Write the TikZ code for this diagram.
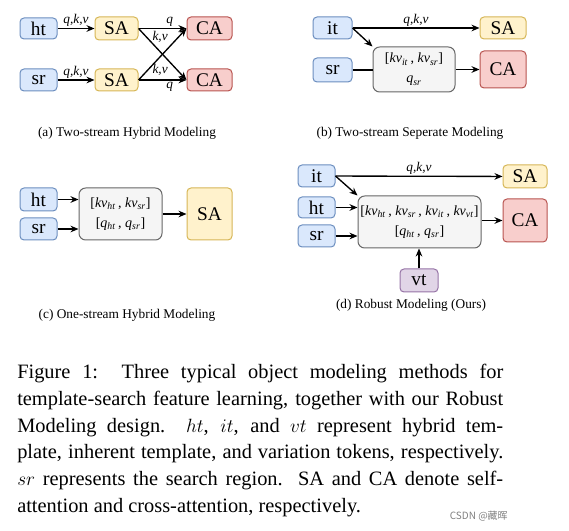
\documentclass[tikz,border=0pt]{standalone}
\usepackage{fontspec}
\setmainfont{Liberation Serif}
\newfontfamily\cjk{Noto Sans CJK SC}
\usetikzlibrary{arrows.meta}
\definecolor{bfill}{HTML}{DAE8FC}\definecolor{bdraw}{HTML}{6C8EBF}
\definecolor{yfill}{HTML}{FFF2CC}\definecolor{ydraw}{HTML}{D6B656}
\definecolor{rfill}{HTML}{F8CECC}\definecolor{rdraw}{HTML}{B85450}
\definecolor{gfill}{HTML}{F5F5F5}\definecolor{gdraw}{HTML}{666666}
\definecolor{pfill}{HTML}{E1D5E7}\definecolor{pdraw}{HTML}{9673A6}
\newcommand\boxnode[7]{\node[#2, minimum width={(#5-#3)*0.75pt}, minimum height={(#6-#4)*0.75pt}] (#1) at ({(#3+#5)/2},{(#4+#6)/2}) {#7};}
\newcommand\kvt[1]{\textit{kv}\textsubscript{\textit{#1}}}
\newcommand\qt[1]{\textit{q}\textsubscript{\textit{#1}}}
\tikzset{
  base box/.style={draw, rounded corners=3pt, line width=0.75pt, inner sep=0pt, font=\fontsize{14.5}{17}\selectfont},
  bluebox/.style={base box, fill=bfill, draw=bdraw},
  yelbox/.style={base box, fill=yfill, draw=ydraw},
  redbox/.style={base box, fill=rfill, draw=rdraw},
  purbox/.style={base box, fill=pfill, draw=pdraw},
  graybox/.style={base box, fill=gfill, draw=gdraw, rounded corners=5pt, align=center, font=\fontsize{10.5}{15}\selectfont},
  arr/.style={-{Stealth[length=6pt,width=5pt]}, line width=1pt},
  ln/.style={line width=1pt},
  lab/.style={font=\fontsize{10}{12}\selectfont\itshape, inner sep=1pt},
  subcap/.style={font=\fontsize{10}{12}\selectfont},
}
\begin{document}
\begin{tikzpicture}[x=0.75pt,y=-0.75pt]
\useasboundingbox (0,0) rectangle (569,531);
% (a)
\boxnode{aht}{bluebox}{20}{18}{57}{39}{ht}
\boxnode{asr}{bluebox}{20}{69}{57}{91}{sr}
\boxnode{asa1}{yelbox}{95}{17}{138}{40}{SA}
\boxnode{asa2}{yelbox}{95}{69}{138}{91}{SA}
\boxnode{aca1}{redbox}{187}{17}{232}{40}{CA}
\boxnode{aca2}{redbox}{187}{69}{232}{91}{CA}
\draw[arr] (aht) -- node[lab,above]{q,k,v} (asa1);
\draw[arr] (asr) -- node[lab,above]{q,k,v} (asa2);
\draw[arr] (asa1.east) -- node[lab,above,pos=0.65]{q} (aca1.west);
\draw[arr] (asa2.east) -- node[lab,below,pos=0.65]{q} (aca2.west);
\draw[arr] (asa1.east) -- node[lab,pos=0.45,yshift=11pt]{k,v} (aca2.west);
\draw[arr] (asa2.east) -- node[lab,pos=0.45,yshift=-10pt]{k,v} (aca1.west);
\node[subcap] (capa) at (127,133) {(a) Two-stream Hybrid Modeling};
% (b)
\boxnode{bit}{bluebox}{313}{17}{352}{39}{it}
\boxnode{bsr}{bluebox}{313}{58}{352}{82}{sr}
\boxnode{bg}{graybox}{373}{47}{455}{92}{[\kvt{it}\,, \kvt{sr}]\\ \qt{sr}}
\boxnode{bsa}{yelbox}{480}{17}{526}{39}{SA}
\boxnode{bca}{redbox}{480}{51}{526}{88}{CA}
\draw[arr] (bit) -- node[lab,above]{q,k,v} (bsa);
\draw[arr] (bit.east) -- (bg.north west);
\draw[ln] (bsr.east) -- (bsr.east -| bg.west);
\draw[arr] (bg.east |- bca.west) -- (bca.west);
\node[subcap] (capb) at (410,133) {(b) Two-stream Seperate Modeling};
% (c)
\boxnode{cht}{bluebox}{20}{188}{57}{211}{ht}
\boxnode{csr}{bluebox}{20}{218}{57}{240}{sr}
\boxnode{cg}{graybox}{79}{188}{162}{240}{[\kvt{ht}\,, \kvt{sr}]\\{}[\qt{ht}\,, \qt{sr}]}
\boxnode{csa}{yelbox}{187}{188}{232}{240}{SA}
\draw[arr] (cht.east) -- (cht.east -| cg.west);
\draw[arr] (csr.east) -- (csr.east -| cg.west);
\draw[arr] (cg) -- (csa);
\node[subcap] (capc) at (127,315) {(c) One-stream Hybrid Modeling};
% (d)
\boxnode{dit}{bluebox}{298}{165}{335}{187}{it}
\boxnode{dht}{bluebox}{298}{197}{335}{218}{ht}
\boxnode{dsr}{bluebox}{298}{225}{335}{247}{sr}
\boxnode{dg}{graybox}{358}{196}{481}{248}{[\kvt{ht}\,, \kvt{sr}\,, \kvt{it}\,, \kvt{vt}]\\{}[\qt{ht}\,, \qt{sr}]}
\boxnode{dsa}{yelbox}{503}{165}{547}{188}{SA}
\boxnode{dca}{redbox}{503}{199}{547}{242}{CA}
\boxnode{dvt}{purbox}{400}{269}{438}{292}{vt}
\draw[arr] (dit) -- node[lab,above]{q,k,v} (dsa);
\draw[arr] (dit.east) -- (dg.north west);
\draw[arr] (dht.east) -- (dht.east -| dg.west);
\draw[arr] (dsr.east) -- (dsr.east -| dg.west);
\draw[arr] (dg.east |- dca.west) -- (dca.west);
\draw[arr] (dvt.north) -- (dvt.north |- dg.south);
\node[subcap] (capd) at (411,305) {(d) Robust Modeling (Ours)};
% caption
\node[anchor=base west, text width=364.5pt, align=justify, inner sep=0pt,
  font=\fontsize{15.3}{20}\selectfont] (cap) at (17,379) {Figure 1:\ \ Three typical object modeling methods for\linebreak
template-search feature learning, together with our Robust\linebreak
Modeling design.\ \ $ht$, $it$, and $vt$ represent hybrid tem-\linebreak
plate, inherent template, and variation tokens, respectively.\linebreak
$sr$ represents the search region.\ \ SA and CA denote self-\linebreak
attention and cross-attention, respectively.};
\node[anchor=base east, text=gray, font=\cjk\fontsize{7.5}{9}\selectfont, inner sep=0pt] (wm) at (508,520) {CSDN @藏晖};
\end{tikzpicture}
\end{document}
